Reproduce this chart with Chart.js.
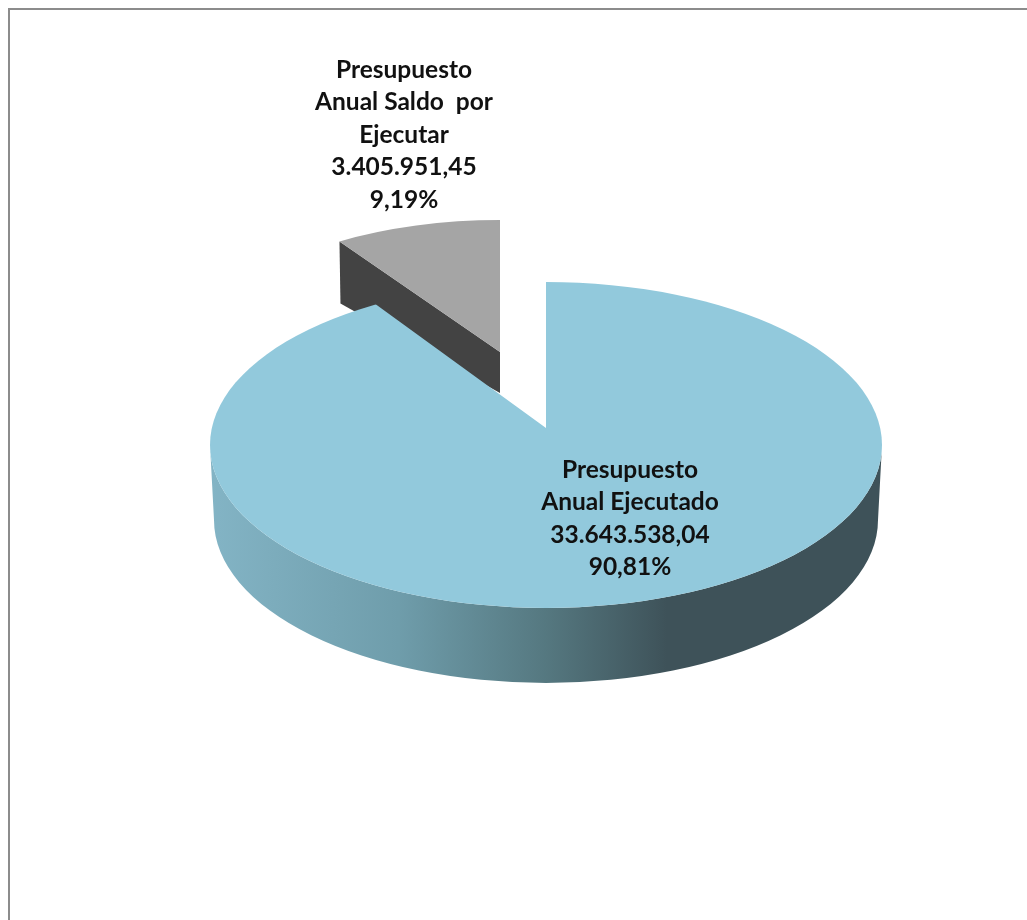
<!DOCTYPE html>
<html lang="es">
<head>
<meta charset="utf-8">
<title>Presupuesto Anual</title>
<script src="https://cdn.jsdelivr.net/npm/chart.js@4"></script>
<style>
html, body { margin: 0; padding: 0; background: #fff; }
#wrap { position: relative; width: 1027px; height: 920px; overflow: hidden; }
#frame { position: absolute; left: 8px; top: 8px; width: 1100px; height: 1000px; border: 2px solid #8c8c8c; }
canvas { position: absolute; left: 0; top: 0; }
</style>
</head>
<body>
<div id="wrap">
  <div id="frame"></div>
  <canvas id="presupuestoChart" width="1027" height="920"></canvas>
</div>
<script>
const categories = ['Presupuesto Anual Ejecutado', 'Presupuesto Anual Saldo por Ejecutar'];
const values = [33643538.04, 3405951.45];
const valueLabels = ['33.643.538,04', '3.405.951,45'];
const percentLabels = ['90,81%', '9,19%'];
const labelLines = [['Presupuesto', 'Anual Ejecutado'], ['Presupuesto', 'Anual Saldo  por', 'Ejecutar']];
const colors = ['#92c9dc', '#a5a5a5'];
const labelSpots = [{ x: 630, y: 470 }, { x: 404, y: 70 }];

// proyección: el vértice no coincide con el centro de la elipse (perspectiva)
const disc = { cx: 546, cy: 445, rx: 336, ry: 163, depth: 75, bottomRx: 332 };
const mainApex = { x: 546, y: 428, scale: 470, squash: 0.4735 };
const gray = { cx: 500, cy: 352, rx: 294, ry: 132, depth: 41, farDepth: 62 };

function drawArc(ctx, el, x, y, sx, sy) {
    ctx.save();
    ctx.translate(x, y);
    ctx.scale(sx / el.outerRadius, sy / el.outerRadius);
    ctx.translate(-el.x, -el.y);
    el.draw(ctx);
    ctx.restore();
}

const pie3d = {
    id: 'pie3d',
    beforeDatasetsDraw: function(chart) {
        const ctx = chart.ctx;
        const arcs = chart.getDatasetMeta(0).data;

        // cara de corte de la porción gris
        const edgeX = gray.cx + Math.cos(arcs[1].startAngle) * gray.rx;
        const edgeY = gray.cy + Math.sin(arcs[1].startAngle) * gray.ry;
        ctx.fillStyle = '#434343';
        ctx.beginPath();
        ctx.moveTo(gray.cx, gray.cy);
        ctx.lineTo(edgeX, edgeY);
        ctx.lineTo(edgeX + 1, edgeY + gray.farDepth);
        ctx.lineTo(gray.cx, gray.cy + gray.depth);
        ctx.closePath();
        ctx.fill();
        drawArc(ctx, arcs[1], gray.cx, gray.cy, gray.rx, gray.ry);

        // pared frontal de la porción azul
        const grad = ctx.createLinearGradient(disc.cx - disc.rx, 0, disc.cx + disc.rx, 0);
        grad.addColorStop(0, '#83b4c5');
        grad.addColorStop(0.28, '#6f9dab');
        grad.addColorStop(0.5, '#557880');
        grad.addColorStop(0.68, '#3e5259');
        grad.addColorStop(1, '#3e5259');
        ctx.fillStyle = grad;
        ctx.beginPath();
        ctx.ellipse(disc.cx, disc.cy, disc.rx, disc.ry, 0, Math.PI, 0, true);
        ctx.ellipse(disc.cx, disc.cy + disc.depth, disc.bottomRx, disc.ry, 0, 0, Math.PI, false);
        ctx.closePath();
        ctx.fill();

        // cara superior: el arco de Chart.js recortado a la elipse
        ctx.save();
        ctx.beginPath();
        ctx.ellipse(disc.cx, disc.cy, disc.rx, disc.ry, 0, 0, Math.PI * 2);
        ctx.clip();
        drawArc(ctx, arcs[0], mainApex.x, mainApex.y, mainApex.scale, mainApex.scale * mainApex.squash);
        ctx.restore();

        // etiquetas
        ctx.fillStyle = '#111';
        ctx.font = 'bold 24.5px Lato, "Open Sans", sans-serif';
        ctx.textAlign = 'center';
        ctx.textBaseline = 'middle';
        categories.forEach(function(name, i) {
            const lines = labelLines[i].concat(valueLabels[i], percentLabels[i]);
            lines.forEach(function(text, n) {
                ctx.fillText(text, labelSpots[i].x, labelSpots[i].y + n * 32.5);
            });
        });
        return false;
    }
};

new Chart(document.getElementById('presupuestoChart'), {
    type: 'pie',
    data: {
        labels: categories,
        datasets: [{
            data: values,
            backgroundColor: colors,
            borderWidth: 0
        }]
    },
    options: {
        responsive: false,
        animation: false,
        plugins: {
            legend: { display: false },
            tooltip: { enabled: false }
        }
    },
    plugins: [pie3d]
});
</script>
</body>
</html>
